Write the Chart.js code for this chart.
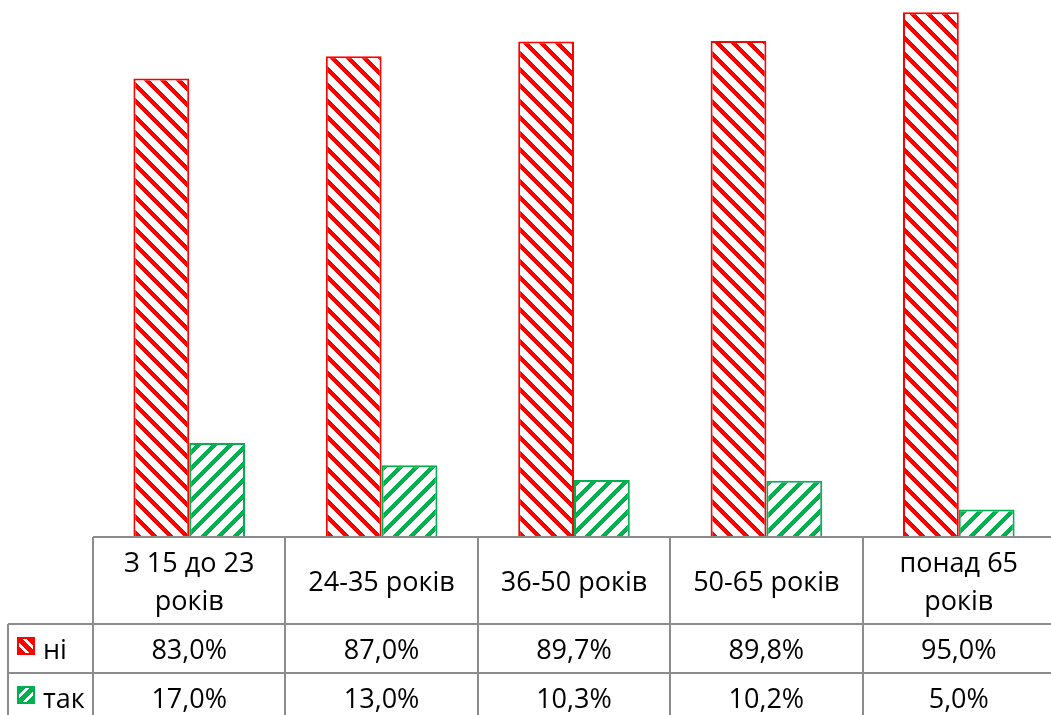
<!DOCTYPE html>
<html><head><meta charset="utf-8">
<script src="https://cdn.jsdelivr.net/npm/chart.js@4"></script>
<style>
html,body{margin:0;padding:0;background:#fff;overflow:hidden;}
#wrap{position:relative;width:1060px;height:715px;}
canvas{position:absolute;left:0;top:0;}
.cell{position:absolute;display:flex;align-items:center;justify-content:center;text-align:center;font-family:"Open Sans",sans-serif;font-size:27px;line-height:38px;color:#000;white-space:nowrap;}
.lbl{justify-content:flex-start;}
</style></head><body>
<div id="wrap"><canvas id="c" width="1060" height="715"></canvas><div id="tbl"></div></div>
<script>
const categories = [['З 15 до 23','років'],'24-35 років','36-50 років','50-65 років',['понад 65','років']];
const seriesNames = ['ні','так'];
const niValues = [83.0,87.0,89.7,89.8,95.0];
const takValues = [17.0,13.0,10.3,10.2,5.0];
const seriesColors = ['#ff0000','#00b050'];

const canvas = document.getElementById('c');
const ctx = canvas.getContext('2d');

function makePattern(color, dir){
  const c = document.createElement('canvas');
  c.width = c.height = 16;
  const g = c.getContext('2d');
  g.fillStyle = '#fff'; g.fillRect(0,0,16,16);
  g.fillStyle = color;
  for (let y=0;y<16;y++) for (let x=0;x<16;x++){
    const v = dir>0 ? (x+y)%16 : ((x-y)%16+16)%16;
    if (v<6) g.fillRect(x,y,1,1);
  }
  return ctx.createPattern(c,'repeat');
}
const patterns = [makePattern(seriesColors[0],-1), makePattern(seriesColors[1],1)];
const seriesValues = [niValues, takValues];
const fmt = v => v.toFixed(1).replace('.',',') + '%';

const HEADER_H = 87, ROW_H = 49, LINE = '#8c8c8c';

function drawKey(ctx, x0, y0, color, dir){
  const S = 18;
  ctx.fillStyle = '#fff';
  ctx.fillRect(x0, y0, S, S);
  ctx.fillStyle = color;
  for (let y=0;y<S;y++) for (let x=0;x<S;x++){
    const d = dir>0 ? (x + y - (S-1)) : (x - y);
    const a = Math.abs(d);
    if (a < 3.5 || a > 7.5) ctx.fillRect(x0+x, y0+y, 1, 1);
  }
  ctx.strokeStyle = color; ctx.lineWidth = 2;
  ctx.strokeRect(x0+1, y0+1, S-2, S-2);
}

const tablePlugin = {
  id:'dataTable',
  afterDraw(chart){
    const {ctx, chartArea} = chart;
    const xs = chart.scales.x;
    const n = categories.length;
    const catW = (chartArea.right - chartArea.left)/n;
    const b = chartArea.bottom;
    const H = chart.height;
    ctx.save();
    ctx.strokeStyle = LINE; ctx.lineWidth = 2;
    ctx.beginPath();
    ctx.moveTo(chartArea.left, b); ctx.lineTo(chart.width, b);
    ctx.moveTo(8, b+HEADER_H); ctx.lineTo(chart.width, b+HEADER_H);
    ctx.moveTo(8, b+HEADER_H+ROW_H); ctx.lineTo(chart.width, b+HEADER_H+ROW_H);
    for (let i=0;i<=n;i++){
      const x = Math.round(xs.getPixelForValue(i) - catW/2);
      ctx.moveTo(x, b); ctx.lineTo(x, H);
    }
    ctx.moveTo(8, b+HEADER_H); ctx.lineTo(8, H);
    ctx.stroke();
    for (let s=0;s<2;s++){
      drawKey(ctx, 17, b + HEADER_H + s*ROW_H + 13, seriesColors[s], s===0 ? -1 : 1);
    }
    ctx.restore();
  },
  afterRender(chart){
    const tbl = document.getElementById('tbl');
    if (tbl.dataset.done) return;
    tbl.dataset.done = '1';
    const {chartArea} = chart;
    const xs = chart.scales.x;
    const n = categories.length;
    const catW = (chartArea.right - chartArea.left)/n;
    const b = chartArea.bottom;
    const add = (html, l, t, w, h, cls) => {
      const d = document.createElement('div');
      d.className = 'cell' + (cls ? ' '+cls : '');
      d.style.left = l+'px'; d.style.top = t+'px'; d.style.width = w+'px'; d.style.height = h+'px';
      d.innerHTML = html;
      tbl.appendChild(d);
    };
    for (let i=0;i<n;i++){
      const l = xs.getPixelForValue(i) - catW/2;
      const lab = Array.isArray(categories[i]) ? categories[i].join('<br>') : categories[i];
      add(lab, l, b, catW, HEADER_H);
      for (let s=0;s<2;s++){
        add(fmt(seriesValues[s][i]), l, b+HEADER_H+s*ROW_H, catW, ROW_H);
      }
    }
    for (let s=0;s<2;s++){
      add(seriesNames[s], 43, b+HEADER_H+s*ROW_H, 50, ROW_H, 'lbl');
    }
  }
};

new Chart(ctx, {
  type:'bar',
  data:{
    labels: categories,
    datasets: seriesNames.map((name,s)=>({
      label:name,
      data: seriesValues[s],
      backgroundColor: patterns[s],
      borderColor: seriesColors[s],
      borderWidth: 2,
      borderSkipped: 'bottom',
      categoryPercentage: 0.58,
      barPercentage: 1
    }))
  },
  options:{
    responsive:false,
    animation:false,
    layout:{padding:{left:93,right:5,top:0,bottom:178}},
    plugins:{legend:{display:false},tooltip:{enabled:false}},
    scales:{
      x:{display:false},
      y:{display:false,min:0,max:97.2}
    }
  },
  plugins:[tablePlugin]
});
</script>
</body></html>
